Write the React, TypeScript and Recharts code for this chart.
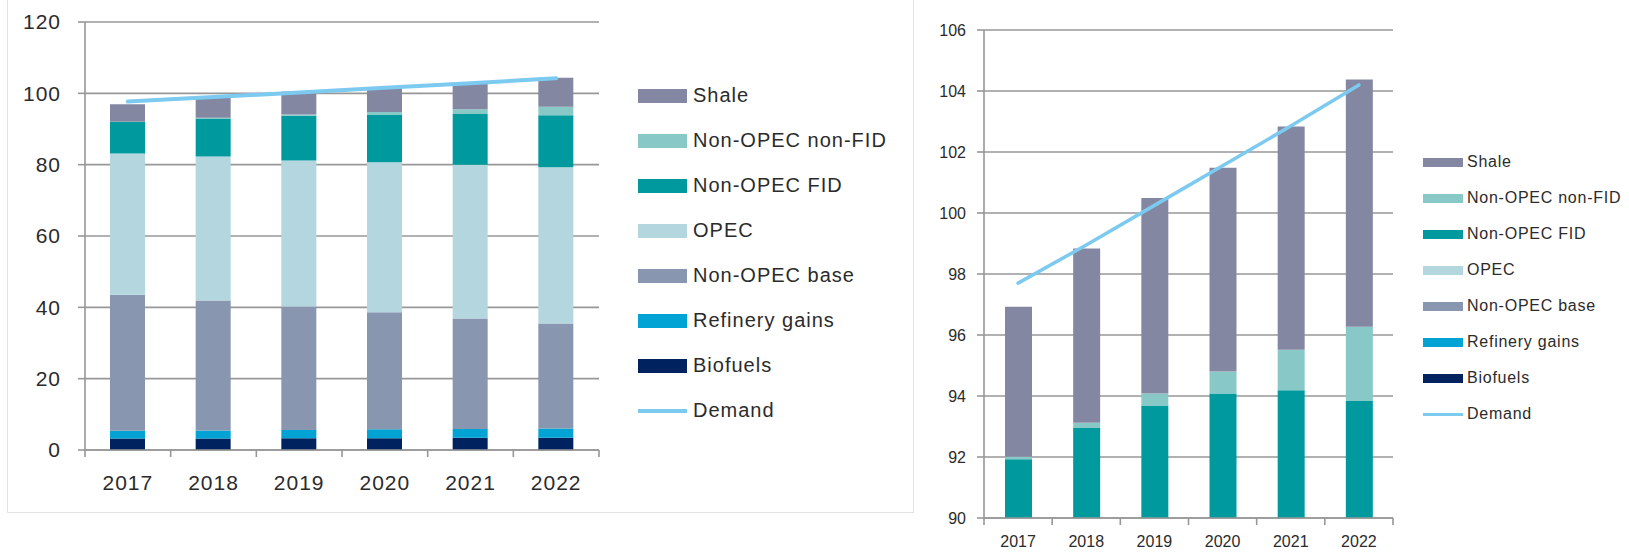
import React from "react";
import { Bar, CartesianGrid, ComposedChart, Legend, Line, XAxis, YAxis } from "recharts";

// World liquids supply by source vs. demand, mb/d
const years = ["2017", "2018", "2019", "2020", "2021", "2022"];
const biofuels = [3.2, 3.2, 3.3, 3.3, 3.4, 3.4];
const refineryGains = [2.2, 2.3, 2.3, 2.5, 2.5, 2.6];
const nonOpecBase = [38.1, 36.4, 34.6, 32.8, 31.0, 29.5];
const opec = [39.6, 40.4, 41.0, 42.1, 43.1, 43.8];
const nonOpecFid = [8.83, 10.65, 12.49, 13.38, 14.19, 14.54];
const nonOpecNonFid = [0.08, 0.17, 0.39, 0.72, 1.33, 2.43];
const shale = [4.92, 5.72, 6.41, 6.68, 7.32, 8.11];
const demand = [97.7, 98.95, 100.25, 101.55, 102.85, 104.2];

const leftTicks = [0, 20, 40, 60, 80, 100, 120];
const rightTicks = [90, 92, 94, 96, 98, 100, 102, 104, 106];

// stacking order, bottom to top
const stack = [
  { key: "biofuels", name: "Biofuels", color: "#00235f", values: biofuels },
  { key: "refinery", name: "Refinery gains", color: "#00a3d4", values: refineryGains },
  { key: "base", name: "Non-OPEC base", color: "#8896b0", values: nonOpecBase },
  { key: "opec", name: "OPEC", color: "#b4d6de", values: opec },
  { key: "fid", name: "Non-OPEC FID", color: "#009a9e", values: nonOpecFid },
  { key: "nonfid", name: "Non-OPEC non-FID", color: "#88c8c6", values: nonOpecNonFid },
  { key: "shale", name: "Shale", color: "#8487a2", values: shale },
];
const DEMAND_COLOR = "#7ccaf0";
const GRID = "#979797";
const TEXT = "#2b2b2b";
const FONT = "'Liberation Sans', Arial, sans-serif";

const data = years.map((year, i) => {
  const row: Record<string, string | number> = { year, demand: demand[i] };
  stack.forEach((s) => (row[s.key] = s.values[i]));
  return row;
});

const legendOrder = [...stack.map((s) => s.name)].reverse().concat("Demand");

type LegendLook = {
  rowH: number;
  swatchW: number;
  swatchH: number;
  lineH: number;
  gap: number;
  fontSize: number;
  spacing: number;
};

function StackLegend({ payload, look }: { payload?: any[]; look: LegendLook }) {
  const items = [...(payload || [])].sort(
    (a, b) => legendOrder.indexOf(a.value) - legendOrder.indexOf(b.value)
  );
  return (
    <div style={{ fontFamily: FONT, color: TEXT }}>
      {items.map((it) => (
        <div
          key={it.value}
          style={{ display: "flex", alignItems: "center", height: look.rowH, whiteSpace: "nowrap" }}
        >
          <span
            style={{
              display: "inline-block",
              width: look.swatchW,
              height: it.type === "line" ? look.lineH : look.swatchH,
              background: it.color,
              marginRight: look.gap,
            }}
          />
          <span style={{ fontSize: look.fontSize, letterSpacing: look.spacing }}>{it.value}</span>
        </div>
      ))}
    </div>
  );
}

// year label plus Excel-style tick marks on the category boundaries
function YearTick(props: any) {
  const { x, y, payload, index, band, tickMargin, fontSize, spacing } = props;
  const axisY = y - tickMargin;
  const left = x - band / 2;
  const right = x + band / 2;
  return (
    <g>
      <line x1={left} x2={left} y1={axisY} y2={axisY + 7} stroke={GRID} strokeWidth={1.6} />
      {index === years.length - 1 && (
        <line x1={right} x2={right} y1={axisY} y2={axisY + 7} stroke={GRID} strokeWidth={1.6} />
      )}
      <text
        x={x}
        y={y}
        dy="0.71em"
        textAnchor="middle"
        fill={TEXT}
        fontSize={fontSize}
        fontFamily={FONT}
        style={{ letterSpacing: spacing }}
      >
        {payload.value}
      </text>
    </g>
  );
}

type PanelProps = {
  width: number;
  height: number;
  margin: { top: number; right: number; bottom: number; left: number };
  domain: [number, number];
  ticks: number[];
  yWidth: number;
  yTickMargin: number;
  xHeight: number;
  xTickMargin: number;
  fontSize: number;
  spacing: number;
  barSize: number;
  lineWidth: number;
  clip: boolean;
  legendPos: { left: number; top: number };
  look: LegendLook;
};

function SupplyPanel(p: PanelProps) {
  const plotW = p.width - p.margin.left - p.margin.right - p.yWidth;
  const band = plotW / years.length;
  const tickStyle = { fill: TEXT, fontSize: p.fontSize, fontFamily: FONT, style: { letterSpacing: p.spacing } };
  return (
    <ComposedChart width={p.width} height={p.height} data={data} margin={p.margin}>
      <CartesianGrid vertical={false} stroke={GRID} strokeWidth={1.6} />
      <XAxis
        dataKey="year"
        height={p.xHeight}
        tickLine={false}
        tickSize={0}
        tickMargin={p.xTickMargin}
        axisLine={{ stroke: GRID, strokeWidth: 1.6 }}
        tick={
          <YearTick band={band} tickMargin={p.xTickMargin} fontSize={p.fontSize} spacing={p.spacing} />
        }
        interval={0}
      />
      <YAxis
        width={p.yWidth}
        domain={p.domain}
        ticks={p.ticks}
        allowDataOverflow={p.clip}
        tickSize={7}
        tickMargin={p.yTickMargin}
        tickLine={{ stroke: GRID, strokeWidth: 1.6 }}
        axisLine={{ stroke: GRID, strokeWidth: 1.6 }}
        tick={tickStyle}
      />
      {stack.map((s) => (
        <Bar
          key={s.key}
          dataKey={s.key}
          name={s.name}
          stackId="supply"
          fill={s.color}
          barSize={p.barSize}
          legendType="rect"
          isAnimationActive={false}
        />
      ))}
      <Line
        dataKey="demand"
        name="Demand"
        stroke={DEMAND_COLOR}
        strokeWidth={p.lineWidth}
        strokeLinecap="round"
        dot={false}
        activeDot={false}
        legendType="line"
        isAnimationActive={false}
      />
      <Legend
        layout="vertical"
        align="center"
        verticalAlign="middle"
        wrapperStyle={{ left: p.legendPos.left, top: p.legendPos.top, width: 300 }}
        content={(props: any) => <StackLegend payload={props.payload} look={p.look} />}
      />
    </ComposedChart>
  );
}

export default function App() {
  return (
    <div
      style={{
        position: "absolute",
        left: 0,
        top: 0,
        width: 1629,
        height: 555,
        background: "#fff",
        overflow: "hidden",
        fontFamily: FONT,
      }}
    >
      <div
        style={{
          position: "absolute",
          left: 7,
          top: -10,
          width: 905,
          height: 521,
          border: "1.5px solid #e2e2e2",
        }}
      />
      <div style={{ position: "absolute", left: 0, top: 0 }}>
        <SupplyPanel
          width={913}
          height={512}
          margin={{ top: 22, right: 314, bottom: 22, left: 15 }}
          domain={[0, 120]}
          ticks={leftTicks}
          yWidth={70}
          yTickMargin={17}
          xHeight={40}
          xTickMargin={25}
          fontSize={21}
          spacing={1}
          barSize={35}
          lineWidth={4}
          clip={false}
          legendPos={{ left: 638, top: 73 }}
          look={{ rowH: 45, swatchW: 49, swatchH: 14, lineH: 4, gap: 6, fontSize: 20, spacing: 1 }}
        />
      </div>
      <div style={{ position: "absolute", left: 920, top: 0 }}>
        <SupplyPanel
          width={709}
          height={555}
          margin={{ top: 30, right: 236, bottom: 0, left: 14 }}
          domain={[90, 106]}
          ticks={rightTicks}
          yWidth={50}
          yTickMargin={11}
          xHeight={37}
          xTickMargin={18}
          fontSize={16}
          spacing={0}
          barSize={27}
          lineWidth={3.5}
          clip={true}
          legendPos={{ left: 503, top: 144 }}
          look={{ rowH: 36, swatchW: 40, swatchH: 9, lineH: 3, gap: 4, fontSize: 16, spacing: 0.75 }}
        />
      </div>
    </div>
  );
}
